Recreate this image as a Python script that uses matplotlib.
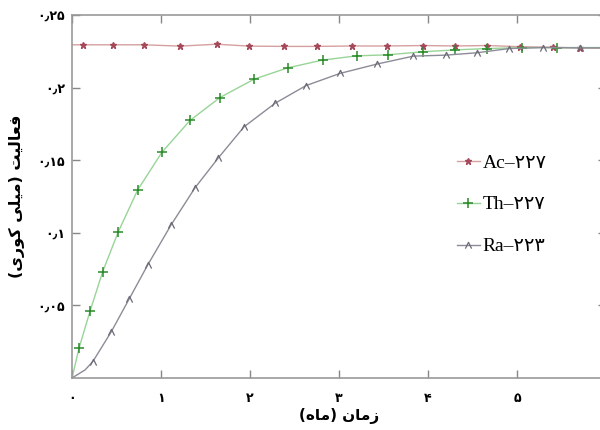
import numpy as np
import matplotlib.pyplot as plt
from matplotlib.path import Path

# time in months, activity in milli-curie
ac_t = [0.0, 0.124, 0.461, 0.809, 1.213, 1.629, 1.989, 2.382, 2.753, 3.146,
        3.539, 3.944, 4.303, 4.663, 5.034, 5.405, 5.708, 6.0]
ac_v = [0.2295, 0.2295, 0.2295, 0.2295, 0.2286, 0.2299, 0.2286, 0.2284, 0.2284, 0.2287,
        0.2287, 0.2290, 0.2287, 0.2290, 0.2282, 0.2278, 0.2273, 0.2271]

th_t = [0.0, 0.079, 0.202, 0.345, 0.52, 0.738, 1.011, 1.326, 1.663, 2.045,
        2.427, 2.817, 3.199, 3.545, 3.94, 4.30, 4.66, 5.06, 5.45, 6.0]
th_v = [0.0, 0.0205, 0.0459, 0.0733, 0.1007, 0.1295, 0.1555, 0.1774, 0.1932, 0.2058,
        0.2137, 0.2190, 0.2219, 0.2226, 0.2247, 0.2260, 0.2269, 0.2276, 0.2276, 0.2276]

ra_t = [0.0, 0.146, 0.233, 0.438, 0.644, 0.851, 1.112, 1.382, 1.644, 1.933,
        2.281, 2.629, 3.011, 3.424, 3.835, 4.202, 4.547, 4.91, 5.29, 5.71, 6.0]
ra_v = [0.0, 0.0055, 0.0112, 0.0315, 0.0546, 0.0779, 0.1053, 0.1310, 0.1516, 0.1730,
        0.1892, 0.2014, 0.2098, 0.2162, 0.2217, 0.2224, 0.2240, 0.2269, 0.2276, 0.2274, 0.2274]

labels = ['Ac–۲۲۷', 'Th–۲۲۷', 'Ra–۲۲۳']
x_ticks = [0, 1, 2, 3, 4, 5]
x_tick_labels = ['۰', '۱', '۲', '۳', '۴', '۵']
y_ticks = [0.05, 0.1, 0.15, 0.2, 0.25]
y_tick_labels = ['۰٫۰۵', '۰٫۱', '۰٫۱۵', '۰٫۲', '۰٫۲۵']

# Persian labels written in shaped presentation forms, visual order
x_label = '(\uFEE9\uFE8E\uFEE3) \uFEE5\uFE8E\uFEE3\uFEAF'
y_label = ('(\uFEEF\uFEAD\uFEEE\uFEDB \uFEF0\uFEE0\uFEF4\uFEE3) '
           '\uFE96\uFEF4\uFEDF\uFE8E\uFECC\uFED3')

caret = Path([(-0.5, -0.5), (0, 0.5), (0.5, -0.5)],
             [Path.MOVETO, Path.LINETO, Path.LINETO])

fig = plt.figure(figsize=(6, 4.3), dpi=100)
ax = fig.add_axes([0.12, 0.121, 0.89, 0.844])

ax.plot(ac_t, ac_v, color='#d6a0a0', lw=1.0, marker='*', ms=5,
        mfc='#a5485a', mec='#a5485a', markevery=list(range(1, len(ac_t) - 1)),
        label=labels[0])
ax.plot(th_t, th_v, color='#98d498', lw=1.0, marker='+', ms=6.5, mew=1.1,
        mec='#2a8a2a', markevery=list(range(1, len(th_t) - 1)),
        label=labels[1])
ax.plot(ra_t, ra_v, color='#8c8c98', lw=1.0, marker=caret, ms=4.5, mew=0.9,
        mfc='none', mec='#6a6a76', markevery=list(range(2, len(ra_t) - 1)),
        label=labels[2])

ax.set_xlim(0, 6)
ax.set_ylim(0, 0.25)
ax.set_xticks(x_ticks)
ax.set_xticklabels(x_tick_labels, fontsize=9, fontweight='bold')
ax.set_yticks(y_ticks)
ax.set_yticklabels(y_tick_labels, fontsize=9, fontweight='bold')
ax.tick_params(direction='in', top=True, right=True, length=6,
               color='#888888', width=1)
ax.tick_params(axis='x', pad=10)
ax.tick_params(axis='y', pad=5)
for sp in ax.spines.values():
    sp.set_color('#999999')
    sp.set_linewidth(1.2)

ax.set_xlabel(x_label, fontsize=11, fontweight='bold', labelpad=2)
ax.set_ylabel(y_label, fontsize=11.5, fontweight='bold', labelpad=9)

leg = fig.legend(loc='upper left', bbox_to_anchor=(0.762, 0.642), frameon=False,
                 prop={'family': ['Liberation Serif', 'DejaVu Sans'], 'size': 14},
                 handlelength=1.15, handletextpad=0.15, labelspacing=1.25,
                 borderpad=0, borderaxespad=0)

fig.savefig('out.png', dpi=100)
